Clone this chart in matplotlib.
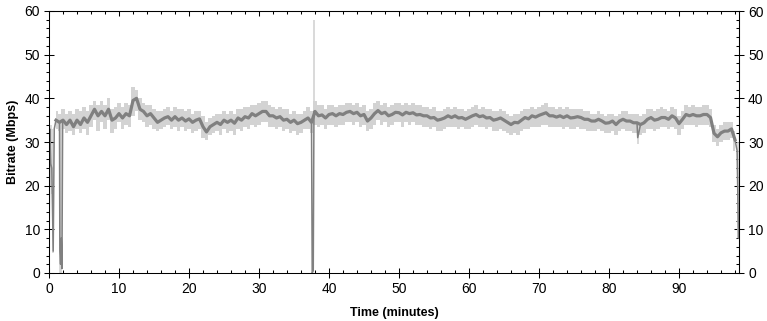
import numpy as np
import matplotlib
matplotlib.use("Agg")
import matplotlib.pyplot as plt
from matplotlib.ticker import MultipleLocator

# ---- data ----
t_main = np.arange(0, 98.75, 0.5)
avg_main = [
    0, 14, 35, 34.5, 35, 34, 35, 33.5, 35, 34,
    35.5, 34.5, 36, 37.5, 36, 37, 36, 37.5, 35, 35.5,
    36.5, 35.5, 36.5, 36, 39.5, 40, 37.5, 37, 36, 36.5,
    35.5, 34.5, 35, 35.5, 35.8, 35, 35.8, 35, 35.5, 34.8,
    35.3, 34.5, 35, 35.3, 33.5, 32.3, 33.5, 34, 34.5, 34,
    35, 34.5, 35, 34.3, 35.5, 35, 35.8, 35.5, 36.5, 36,
    36.5, 37, 37, 36, 36, 35.5, 35.8, 35, 35.2, 34.5,
    35, 34.2, 34.5, 35, 35.5, 34.5, 37, 36, 36.2, 35.5,
    36.3, 36.5, 36, 36.5, 36.3, 36.8, 37, 36.5, 36.8, 36,
    36.3, 34.8, 35.5, 36.5, 37.2, 36.5, 36.8, 36, 36.3, 36.8,
    36.7, 36.2, 36.8, 36.5, 36.7, 36.2, 36.3, 36, 36, 35.5,
    35.6, 35, 35.2, 35.5, 36, 35.6, 36, 35.5, 35.6, 35.2,
    35.6, 36, 36.3, 35.8, 36, 35.5, 35.6, 35, 35.2, 35.5,
    35, 34.5, 34, 34.5, 34.4, 35, 35.6, 35.3, 36, 35.7,
    36.1, 36.4, 36.7, 36, 36, 35.7, 36, 35.6, 36, 35.5,
    35.6, 35.8, 35.6, 35.2, 35.2, 34.8, 34.8, 35.2, 34.8, 34.3,
    34.4, 34.8, 34, 34.8, 35.2, 34.8, 34.8, 34.4, 34.4, 34,
    34.4, 35.2, 35.6, 35, 35.2, 35.6, 35.6, 35.2, 36, 35.5,
    34.2, 35.2, 36.3, 36, 36.3, 36, 36, 36.3, 36.3, 35.6,
    32, 31.2, 32.1, 32.5, 32.5, 33, 30.5, 8,
]
event_t = [0.1, 0.25, 0.4, 0.6, 0.75, 1.55, 1.65, 1.75, 1.85, 1.95,
           37.6, 37.75, 37.85, 84.1, 98.3]
event_v = [33, 25, 24, 5, 33, 5, 2, 8, 1, 34.5,
           0, 0.5, 37, 31, 28]

t_env = np.arange(1.0, 98.25, 0.5)
env_hi = [
    37, 36.5, 37.5, 36.5, 37, 36.5, 37.5, 37, 38, 37,
    38.5, 39.5, 38.5, 39.5, 38.5, 40, 37.5, 38, 39, 38,
    39, 38.5, 42.5, 42, 40, 39, 38.5, 38.5, 37.5, 37,
    37, 37.5, 38, 37, 38, 37.5, 37.5, 37, 37.5, 36.5,
    37, 37, 36, 34.5, 35.5, 36, 36.5, 36.5, 37, 36.5,
    37, 36.5, 37.5, 37.5, 38, 38, 38.5, 38.5, 39, 39.5,
    39.5, 38.5, 38, 37.5, 38, 37.5, 37.5, 36.5, 37, 36.5,
    36.5, 37, 38, 37, 39.5, 38.5, 38.5, 37.5, 38.5, 38.5,
    38, 38.5, 38.5, 39, 39, 38.5, 39, 38, 38.5, 37,
    37.5, 39, 39.5, 38.5, 39, 38, 38.5, 39, 39, 38.5,
    39, 38.5, 39, 38.5, 38.5, 38, 38, 37.5, 38, 37,
    37, 37.5, 38, 37.5, 38, 37.5, 37.5, 37, 37.5, 38,
    38.5, 37.5, 38, 37.5, 37.5, 37, 37, 37.5, 37, 36.5,
    36, 36.5, 36.5, 37, 37.5, 37.5, 38, 37.5, 38, 38.5,
    39, 38, 38, 37.5, 38, 37.5, 38, 37.5, 37.5, 37.5,
    37.5, 37, 37, 36.5, 36.5, 37, 36.5, 36, 36.5, 36.5,
    36, 36.5, 37, 37, 36.5, 36.5, 36.5, 36, 36.5, 37.5,
    37.5, 37, 37.5, 38, 37.5, 37, 38, 37.5, 36, 37,
    38.5, 38, 38.5, 38, 38, 38.5, 38.5, 37.5, 34, 33,
    34, 34.5, 34.5, 34.5, 32.5,
]
env_lo = [
    33, 32.5, 33, 32, 32.5, 31.5, 33, 32, 33, 31.5,
    33.5, 35, 32.5, 34.5, 33, 35, 32, 33, 34.5, 33,
    34, 33.5, 36, 37, 35, 34.5, 33.5, 34, 33, 32.5,
    33, 33.5, 34, 33, 33.5, 32.5, 33.5, 32.5, 33, 32,
    32.5, 33, 31, 30.5, 31.5, 32, 32.5, 31.5, 33, 32,
    32.5, 31.5, 33, 32.5, 33.5, 33, 34, 33.5, 34, 34.5,
    34.5, 33.5, 33.5, 33, 33.5, 32.5, 33, 32, 32.5, 31.5,
    32, 33, 33, 32, 34, 33.5, 34, 33, 34, 34,
    33.5, 34, 34, 34.5, 34.5, 34, 34.5, 33.5, 34, 32.5,
    33, 34, 35, 34, 34.5, 33.5, 34, 34.5, 34.5, 33.5,
    34.5, 34, 34.5, 34, 34, 33.5, 33.5, 33, 33.5, 32.5,
    32.5, 33, 33.5, 33.5, 33.5, 33, 33.5, 33, 33, 33.5,
    34, 33.5, 33.5, 33, 33.5, 32.5, 32.5, 33, 32.5, 32,
    31.5, 32, 31.5, 32.5, 33, 33, 33.5, 33.5, 33.5, 34,
    34, 33.5, 33.5, 33.5, 33.5, 33, 33.5, 33, 33, 33.5,
    33, 33, 32.5, 32.5, 32.5, 33, 32.5, 32, 32, 32.5,
    31.5, 32.5, 33, 32.5, 32.5, 32, 32, 31.5, 32, 33,
    33, 32.5, 33, 33.5, 33.5, 33, 33.5, 33, 31.5, 33,
    34, 34, 34, 33.5, 34, 34, 34, 33.5, 30, 29,
    30, 30.5, 30.5, 31, 28,
]
spike_t = [0.3, 0.45, 0.6, 1.6, 1.7, 37.9, 84.1, 98.4]
spike_lo = [20, 18, 4.5, 0, 0, 34, 29.5, 8]
spike_hi = [34, 33, 30, 35, 35, 58, 34, 30]

x_ticks = [0, 10, 20, 30, 40, 50, 60, 70, 80, 90]
y_ticks = [0, 10, 20, 30, 40, 50, 60]

# ---- merge main series with events ----
t_all = np.concatenate([t_main, event_t])
v_all = np.concatenate([avg_main, event_v])
order = np.argsort(t_all, kind="stable")
t_all, v_all = t_all[order], v_all[order]

plt.rcParams['font.family'] = ['Liberation Sans', 'DejaVu Sans']

W, H = 767, 321
fig = plt.figure(figsize=(W / 100, H / 100), dpi=100)
ax = fig.add_axes([49 / W, 48 / H, (739 - 49) / W, (273 - 11) / H])

light = '#d3d3d3'
dark = '#808080'
ax.fill_between(t_env, env_lo, env_hi, color=light, lw=0, step='mid', zorder=1)
ax.vlines(spike_t, spike_lo, spike_hi, color=light, lw=1.2, zorder=1)
# thin trace through every sample (incl. dropouts), thicker body for steady part
ax.plot(t_all, v_all, color=dark, lw=1.1, zorder=2)
body = slice(2, len(t_main) - 1)
ax.plot(t_main[body], np.asarray(avg_main)[body], color=dark, lw=2.3, zorder=3)

ax.set_xlim(0, 98.57)
ax.set_ylim(0, 60)
ax.set_xticks(x_ticks)
ax.set_yticks(y_ticks)
ax.xaxis.set_minor_locator(MultipleLocator(2))
ax.yaxis.set_minor_locator(MultipleLocator(2))

for s in ax.spines.values():
    s.set_linewidth(0.75)
    s.set_color('black')

ax.tick_params(axis='both', which='major', direction='inout', length=7,
               width=0.75, labelsize=10, pad=3)
ax.tick_params(axis='x', which='minor', direction='in', length=2.2, width=0.75)
ax.tick_params(axis='y', which='minor', direction='out', length=2.2, width=0.75)

# top ticks (inward)
top = ax.secondary_xaxis('top')
top.set_xticks(x_ticks)
top.xaxis.set_minor_locator(MultipleLocator(2))
top.tick_params(which='major', direction='in', length=3.5, width=0.75, labeltop=False)
top.tick_params(which='minor', direction='in', length=2.2, width=0.75)
top.spines['top'].set_linewidth(0.75)

# right ticks with labels
right = ax.secondary_yaxis('right')
right.set_yticks(y_ticks)
right.yaxis.set_minor_locator(MultipleLocator(2))
right.tick_params(which='major', direction='inout', length=7, width=0.75,
                  labelsize=10, pad=3)
right.tick_params(which='minor', direction='in', length=2.2, width=0.75)
right.spines['right'].set_linewidth(0.75)

ax.set_xlabel('Time (minutes)', fontsize=9, fontweight='bold', labelpad=8)
ax.set_ylabel('Bitrate (Mbps)', fontsize=9, fontweight='bold', labelpad=4)

fig.savefig('out.png', dpi=100)
